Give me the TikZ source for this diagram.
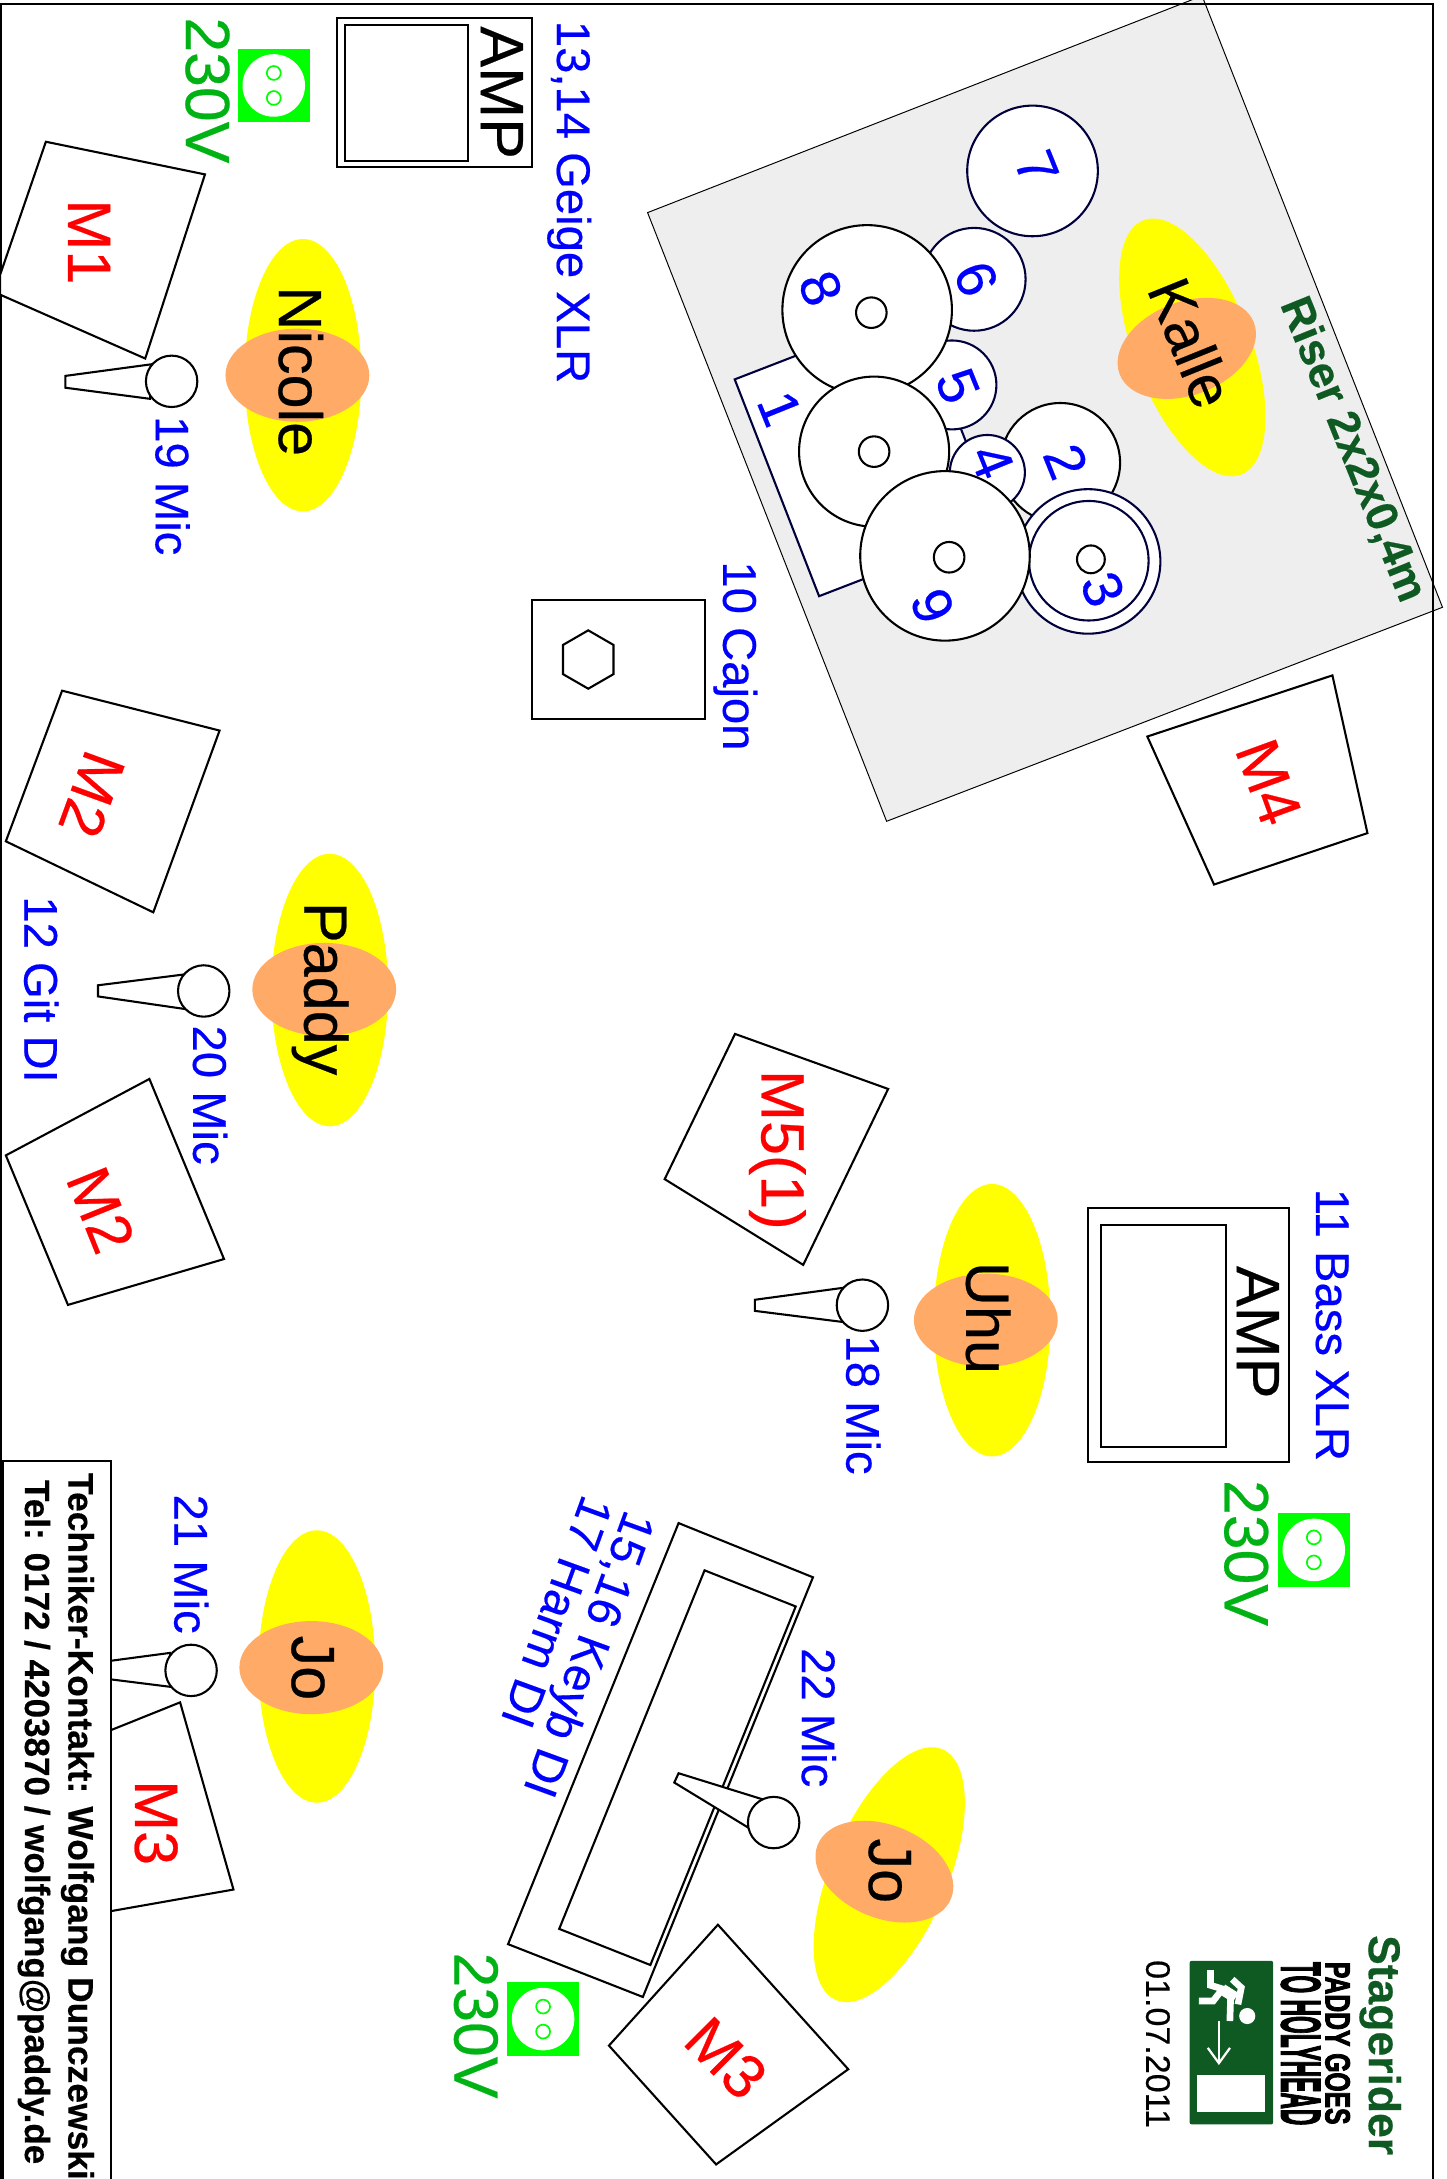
\documentclass[tikz,border=0pt]{standalone}
\usepackage{fontspec}
\setmainfont[FakeBold=0.4]{Liberation Sans}
\newfontfamily\bandfont[FakeBold=3]{Liberation Sans Bold}
\usepackage{xcolor}
\usetikzlibrary{arrows.meta, shapes.geometric}
\definecolor{chanblue}{RGB}{0,0,255}
\definecolor{monred}{RGB}{255,0,0}
\definecolor{bodyyellow}{RGB}{255,255,0}
\definecolor{socketgreen}{RGB}{0,255,0}
\definecolor{powergreen}{RGB}{0,178,20}
\definecolor{headorange}{RGB}{255,170,102}
\definecolor{risergray}{RGB}{238,238,238}
\definecolor{darkgreen}{RGB}{15,90,35}
\definecolor{drumnavy}{RGB}{0,0,60}
\tikzset{
  plain/.style={inner sep=0pt, outer sep=0pt, anchor=base west},
  chan/.style={plain, text=chanblue, font=\fontsize{34}{34}\selectfont},
  mon/.style={plain, text=monred, font=\fontsize{44}{44}\selectfont},
  monc/.style={mon, anchor=center},
  who/.style={plain, font=\fontsize{44}{44}\selectfont},
  power/.style={plain, text=powergreen, font=\fontsize{45}{45}\selectfont},
  num/.style={inner sep=0pt, outer sep=0pt, text=chanblue, font=\fontsize{40}{40}\selectfont},
  body/.style={ellipse, fill=bodyyellow, inner sep=0pt, minimum width=84pt, minimum height=196pt},
  head/.style={ellipse, fill=headorange, inner sep=0pt, minimum width=103.5pt, minimum height=67pt},
  kit/.style={circle, draw=black, fill=white, line width=1.5pt, inner sep=0pt},
  kitn/.style={kit, draw=drumnavy},
  mic/.style={circle, draw=black, fill=white, line width=1.5pt, inner sep=0pt, minimum size=37pt},
  box/.style={draw=black, fill=white, line width=1.5pt},
}
\newcommand{\socket}[2]{%
  \begin{scope}[shift={(#1,#2)}]
    \fill[socketgreen] (-26,-26.5) rectangle (26,26.5);
    \fill[white] (0,0) circle (22.5);
    \draw[socketgreen, fill=white, line width=1.2pt] (0,-9) circle (5);
    \draw[socketgreen, fill=white, line width=1.2pt] (0,9) circle (5);
  \end{scope}}
\begin{document}
\begin{tikzpicture}[x=1pt, y=-1pt]
  \useasboundingbox (0,0) rectangle (1041,1568);
  % riser and kit
  \draw[fill=risergray, line width=0.7pt] (466,153) -- (865,-3) -- (1038,437) -- (638,591) -- cycle;
  \draw[draw=drumnavy, fill=white, line width=1.5pt] (528.7,273) -- (658,223) -- (719,379) -- (589.4,429) -- cycle;
  \node[kitn, minimum size=94pt] (tom7) at (743,123) {};
  \node[kit, minimum size=86pt] (tom2) at (763,333) {};
  \node[kitn, minimum size=104pt] (tom3) at (783,404) {};
  \node[kitn, minimum size=86pt] (tom3in) at (783.5,403.5) {};
  \node[kit, minimum size=20pt] (hole3) at (785,402.5) {};
  \node[kitn, minimum size=54pt] (tom4) at (710.5,340) {};
  \node[kitn, minimum size=64pt] (tom5) at (685,277) {};
  \node[kitn, minimum size=74pt] (tom6) at (701,201) {};
  \node[kit, minimum size=122pt] (tom8) at (624,223) {};
  \node[kit, minimum size=22pt] (hole8) at (627,225) {};
  \node[kit, minimum size=108pt] (tomr) at (629,325) {};
  \node[kit, minimum size=22pt] (holer) at (629,325) {};
  \node[kit, minimum size=122pt] (tom9) at (680,400) {};
  \node[kit, minimum size=22pt] (hole9) at (683,401) {};
  \node[num, rotate=-68] (n1) at (561,294) {1};
  \node[num, rotate=-68] (n2) at (767,332) {2};
  \node[num, rotate=-68] (n3) at (793.5,424) {3};
  \node[num, rotate=-68] (n4) at (713.8,332) {4};
  \node[num, rotate=-68] (n5) at (689,277.7) {5};
  \node[num, rotate=-68] (n6) at (702.4,200.6) {6};
  \node[num, rotate=-68] (n7) at (746,120.7) {7};
  \node[num, rotate=-68] (n8) at (590.5,207.5) {8};
  \node[num, rotate=-68] (n9) at (671,436) {9};
  \node[body, rotate=21] (kallebody) at (858,250) {};
  \node[head, rotate=21] (kallehead) at (854,250.7) {};
  \node[who, rotate=-68, font=\fontsize{43}{43}\selectfont] (kalle) at (825,208) {Kalle};
  \node[plain, rotate=-68, text=darkgreen, font=\bfseries\fontsize{32}{32}\selectfont] (riser) at (921,219) {Riser 2x2x0,4m};
  % frame
  \draw[line width=1.6pt] (0.5,1568) -- (0.5,3) -- (1031,3) -- (1031,1568);
  % monitors
  \draw[box] (33,102) -- (147.5,125.5) -- (104.5,258) -- (0,212) -- (0,198) -- cycle;
  \draw[box] (44.7,497) -- (158,525.7) -- (110.3,656.5) -- (4.2,605.4) -- cycle;
  \draw[box] (107.5,776.4) -- (161.2,906) -- (48.9,939) -- (4.2,831.4) -- cycle;
  \draw[box] (825.6,530) -- (958.8,486) -- (984,599.5) -- (873.6,636.5) -- cycle;
  \draw[box] (528.9,744) -- (639.1,783.6) -- (578,910.2) -- (478.3,848.5) -- cycle;
  \draw[box] (129.6,1225) -- (168,1359.7) -- (30,1384) -- (30,1265) -- cycle;
  \draw[box] (516.6,1385) -- (610.4,1489) -- (515.3,1557.5) -- (438.2,1472) -- cycle;
  \node[mon, rotate=-90] (m1) at (49,143.5) {M1};
  \node[monc, rotate=-110] (m2a) at (66.3,571.7) {M2};
  \node[monc, rotate=-68] (m2b) at (72.6,870.6) {M2};
  \node[monc, rotate=-70] (m4) at (913,562.8) {M4};
  \node[mon, rotate=-90] (m5) at (548,770) {M5(1)};
  \node[mon, rotate=-90] (m3a) at (97.2,1281) {M3};
  \node[monc, rotate=-45] (m3b) at (522.5,1481) {M3};
  % amps and cajon
  \draw[box] (242.5,13) rectangle (383,120);
  \draw[box] (248,18) rectangle (337,116);
  \node[who, rotate=-90] (amp1) at (346,19) {AMP};
  \draw[box] (782.9,869.4) rectangle (927.8,1052);
  \draw[box] (792.4,881.6) rectangle (882,1041);
  \node[who, rotate=-90] (amp2) at (890,911) {AMP};
  \draw[box] (382.9,432) rectangle (507,517.7);
  \node[regular polygon, regular polygon sides=6, rotate=30, draw=black, line width=1.5pt, inner sep=0pt, minimum size=42pt] (cajon) at (423.3,474.6) {};
  % keyboard
  \draw[box] (488.3,1096) -- (585,1135) -- (462.6,1437) -- (365.6,1399) -- cycle;
  \draw[box] (507,1130) -- (572.6,1156) -- (468,1414) -- (402.4,1388) -- cycle;
  % players
  \node[body] (nicolebody) at (218,270) {};
  \node[head] (nicolehead) at (214,270) {};
  \node[who, rotate=-90] (nicole) at (200.7,206) {Nicole};
  \node[body] (paddybody) at (237.3,712.4) {};
  \node[head] (paddyhead) at (233.3,712) {};
  \node[who, rotate=-90] (paddy) at (219,649) {Paddy};
  \node[body] (uhubody) at (713.9,950) {};
  \node[head] (uhuhead) at (709.4,950) {};
  \node[who, rotate=-90] (uhu) at (695.3,908) {Uhu};
  \node[body] (jobody) at (228,1199.2) {};
  \node[head] (johead) at (224,1200) {};
  \node[who, rotate=-90] (jo) at (210,1177) {Jo};
  \node[body, rotate=-23] (jokbody) at (639.9,1349) {};
  \node[head, rotate=-22] (jokhead) at (636.4,1346.8) {};
  \node[who, rotate=-90] (jok) at (625.3,1323) {Jo};
  % mics
  \draw[box] (110,262) -- (47,270.5) -- (47,279) -- (108,287) -- cycle;
  \node[mic] (mic19) at (123.5,274.4) {};
  \draw[box] (132.6,701.2) -- (70.5,709) -- (70.5,717) -- (132.6,726) -- cycle;
  \node[mic] (mic20) at (146.6,713.1) {};
  \draw[box] (607.4,926.6) -- (543.2,935.3) -- (543.2,943.3) -- (607.4,951.4) -- cycle;
  \node[mic] (mic18) at (620.6,939.2) {};
  \draw[box] (122.4,1189.4) -- (60,1197.7) -- (60,1206) -- (122.4,1213.8) -- cycle;
  \node[mic] (mic21) at (137.5,1202) {};
  \draw[box] (548.2,1294.6) -- (488.3,1276) -- (485.2,1282.7) -- (539.2,1315.6) -- cycle;
  \node[mic] (mic22) at (556.7,1311.5) {};
  % channels
  \node[chan, rotate=-90] (ch1314) at (400.8,15) {13,14 Geige XLR};
  \node[chan, rotate=-90] (ch19) at (112,299.5) {19 Mic};
  \node[chan, rotate=-90] (ch10) at (520.4,404) {10 Cajon};
  \node[chan, rotate=-90] (ch12) at (17.5,645) {12 Git DI};
  \node[chan, rotate=-90] (ch20) at (139,738) {20 Mic};
  \node[chan, rotate=-90] (ch18) at (609,961) {18 Mic};
  \node[chan, rotate=-90] (ch11) at (947,855.5) {11 Bass XLR};
  \node[chan, rotate=-90] (ch22) at (577,1186) {22 Mic};
  \node[chan, rotate=-90] (ch21) at (125.5,1075.5) {21 Mic};
  \node[chan, rotate=-110] (ch1516) at (450,1085.5) {15,16 Keyb DI};
  \node[chan, rotate=-110] (ch17) at (419.5,1074.5) {17 Harm DI};
  % power
  \socket{197}{61.5}
  \socket{945.4}{1115.3}
  \socket{390.8}{1452.9}
  \node[power, rotate=-90] (v1) at (133.8,12.5) {230V};
  \node[power, rotate=-90] (v2) at (881.3,1065) {230V};
  \node[power, rotate=-90] (v3) at (327,1405) {230V};
  % contact box
  \draw[box] (2,1051) rectangle (80,1570);
  \node[plain, rotate=-90, font=\bfseries\fontsize{25.5}{25.5}\selectfont] (contact) at (49.2,1060) {Techniker-Kontakt: Wolfgang Dunczewski};
  \node[plain, rotate=-90, font=\bfseries\fontsize{25.2}{25.2}\selectfont] (phone) at (18,1065) {Tel: 0172 / 4203870 / wolfgang@paddy.de};
  % title block
  \node[plain, rotate=-90, text=darkgreen, font=\bfseries\fontsize{32}{32}\selectfont] (title) at (985,1392.5) {Stagerider};
  \node[plain, rotate=-90] (band1) at (953.9,1411.8) {\resizebox{117pt}{17.5pt}{\bandfont PADDY GOES}};
  \node[plain, rotate=-90] (band2) at (922.2,1411.8) {\resizebox{117.6pt}{28pt}{\bandfont TO HOLYHEAD}};
  \node[plain, rotate=-90, font=\fontsize{24.5}{24.5}\selectfont] (date) at (824.8,1410.5) {01.07.2011};
  % exit sign
  \fill[darkgreen, rounded corners=1.5pt] (856,1411) rectangle (916.2,1528.7);
  \fill[white] (861.5,1493.4) rectangle (910,1519.8);
  \fill[white] (897.5,1450.7) circle (5.8);
  \draw[white, line width=4.8pt] (871.1,1417.6) -- (871.1,1428.6) -- (880.7,1431.5);
  \draw[white, line width=4.8pt] (862.7,1439.9) -- (873,1439.9) -- (879.5,1431.5);
  \draw[white, line width=8pt] (879.5,1431.5) -- (889.1,1437.5);
  \draw[white, line width=4.8pt] (886.7,1424.3) -- (893.2,1430.3) -- (890.8,1442.3);
  \draw[white, line width=4.8pt] (885.5,1438.7) -- (885,1454.3);
  \coordinate (exitfrom) at (877.1,1454.3);
  \coordinate (exitto) at (877.1,1486);
  \draw[white, line width=1.6pt, -{Straight Barb[length=11pt, width=16pt]}] (exitfrom) -- (exitto);
\end{tikzpicture}
\end{document}
